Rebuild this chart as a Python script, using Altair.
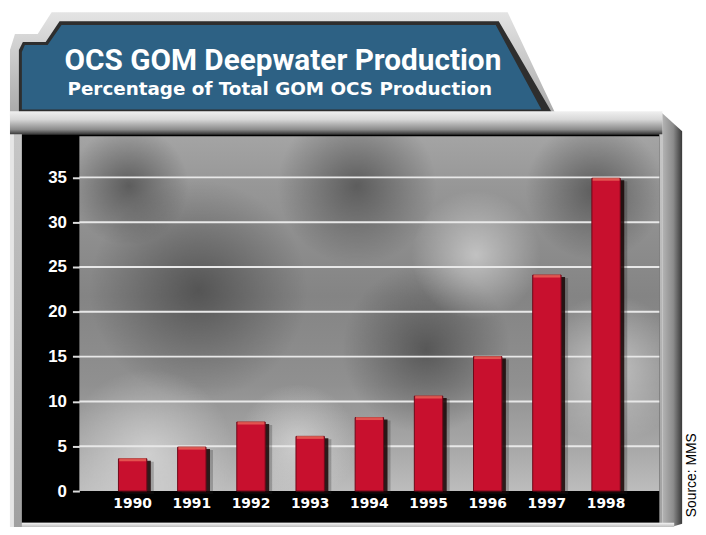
import altair as alt
import pandas as pd

# ---------------- data ----------------
years = ["1990", "1991", "1992", "1993", "1994", "1995", "1996", "1997", "1998"]
share = [3.6, 4.9, 7.7, 6.1, 8.2, 10.6, 15.0, 24.1, 34.9]
y_ticks = [0, 5, 10, 15, 20, 25, 30, 35]
grid_vals = [5, 10, 15, 20, 25, 30, 35]

title_text = "OCS GOM Deepwater Production"
subtitle_text = "Percentage of Total GOM OCS Production"
source_text = "Source: MMS"

# ---------------- layout ----------------
W, H = 585, 358          # plot area
OX, OY = 80, 135         # page position of the plot area
YDOM = [0, 39.6]
XSCALE = dict(paddingInner=0.52, paddingOuter=0.66, align=0.5)

data = pd.DataFrame({"year": years, "share": share})
one = pd.DataFrame({"a": [0]})


def X():
    return alt.X("year:N", sort=years, title=None, scale=alt.Scale(**XSCALE), axis=None)


def Y():
    return alt.Y("share:Q", title=None,
                 scale=alt.Scale(domain=YDOM, nice=False, zero=True), axis=None)


def grad(stops, vertical=True):
    return alt.LinearGradient(
        gradient="linear",
        stops=[alt.GradientStop(color=c, offset=o) for o, c in stops],
        x1=0, y1=0, x2=0 if vertical else 1, y2=1 if vertical else 0)


def rgrad(stops):
    return alt.RadialGradient(
        gradient="radial",
        stops=[alt.GradientStop(color=c, offset=o) for o, c in stops],
        x1=0.5, y1=0.5, x2=0.5, y2=0.5, r1=0, r2=0.5)


def rect(x1, y1, x2, y2, color, **kw):
    return alt.Chart(one).mark_rect(color=color, **kw).encode(
        x=alt.value(x1 - OX), x2=alt.value(x2 - OX),
        y=alt.value(y1 - OY), y2=alt.value(y2 - OY))


def poly(xs, tops, bottoms, color, **kw):
    df = pd.DataFrame({"px": [v - OX for v in xs],
                       "pt": [v - OY for v in tops],
                       "pb": [v - OY for v in bottoms]})
    return alt.Chart(df).mark_area(color=color, interpolate="linear", **kw).encode(
        x=alt.X("px:Q", scale=None, axis=None),
        y=alt.Y("pt:Q", scale=None, axis=None),
        y2="pb:Q")


def text(s, x, y, **kw):
    return alt.Chart(one).mark_text(text=s, **kw).encode(
        x=alt.value(x - OX), y=alt.value(y - OY))


def blob(cx, cy, size, stops):
    h = size / 2
    return rect(cx - h, cy - h, cx + h, cy + h, rgrad(stops), clip=True)


# ---------------- frame decorations ----------------
frame_body = rect(10, 112, 668, 532, grad([(0, "#c8c8c8"), (1, "#a0a0a0")]))
frame_right = poly([668, 688], [112, 130], [532, 526],
                   grad([(0, "#b4b4b4"), (0.55, "#8c8c8c"), (1, "#383838")], vertical=False))
frame_left_hi = rect(10, 120, 14, 530, "#e6e6e6")

banner_outer = poly([10, 15, 38, 52, 512, 560], [48, 32, 32, 10, 10, 112],
                    [115, 115, 115, 115, 115, 115], grad([(0, "#e4e4e4"), (1, "#a8a8a8")]))
banner_dark = poly([19, 23, 46, 60, 503, 557], [48, 40, 40, 19, 19, 112],
                   [112, 112, 112, 112, 112, 112], "#2e2e2e")
banner_blue = poly([22, 25, 48, 62, 500, 546], [50, 43, 43, 23, 23, 108],
                   [108, 108, 108, 108, 108, 108], "#2d6184")

strip = rect(10, 110, 668, 133, grad([(0, "#f0f0f0"), (0.35, "#d8d8d8"), (0.8, "#8a8a8a"), (1, "#3a3a3a")]))
black = rect(22, 133, 665, 525, "#000000")
bottom_bevel = rect(22, 525, 680, 532, grad([(0, "#f4f4f4"), (1, "#9a9a9a")]))

# ---------------- plot background ----------------
bg = rect(OX, OY, OX + W, OY + H, grad([
    (0, "#a4a4a4"), (0.15, "#969696"), (0.45, "#848484"),
    (0.7, "#909090"), (0.88, "#a8a8a8"), (1, "#bdbdbd")]))
dark_blob = [(0, "rgba(45,45,45,0.55)"), (1, "rgba(45,45,45,0)")]
light_blob = [(0, "rgba(230,230,230,0.6)"), (1, "rgba(230,230,230,0)")]
blobs = [
    blob(200, 290, 220, dark_blob),
    blob(430, 350, 170, dark_blob),
    blob(360, 185, 160, dark_blob),
    blob(600, 190, 140, dark_blob),
    blob(130, 185, 120, dark_blob),
    blob(150, 455, 170, light_blob),
    blob(615, 370, 150, light_blob),
    blob(480, 255, 130, light_blob),
    blob(300, 445, 120, light_blob),
]

grid = alt.Chart(pd.DataFrame({"g": grid_vals})).mark_rule(
    color="#e8e8e8", strokeWidth=2).encode(
    y=alt.Y("g:Q", scale=alt.Scale(domain=YDOM, nice=False), axis=None),
    x=alt.value(0), x2=alt.value(W))

# ---------------- bars ----------------
base = alt.Chart(data)
shadow2 = base.mark_bar(color="#202020", opacity=0.25, xOffset=7, yOffset=3).encode(x=X(), y=Y())
shadow1 = base.mark_bar(color="#1a0505", opacity=0.85, xOffset=4, yOffset=2).encode(x=X(), y=Y())
bars = base.mark_bar(color="#c8102e", stroke="#6e0818", strokeWidth=1).encode(
    x=alt.X("year:N", sort=years, title=None, scale=alt.Scale(**XSCALE),
            axis=alt.Axis(labelColor="white", labelFont="DejaVu Sans", labelFontWeight="bold",
                          labelFontSize=14, labelAngle=0, labelPadding=6, ticks=False,
                          domain=False, grid=False, zindex=1)),
    y=alt.Y("share:Q", title=None,
            scale=alt.Scale(domain=YDOM, nice=False, zero=True),
            axis=alt.Axis(values=y_ticks, labelColor="white", labelFont="Liberation Sans",
                          labelFontWeight="bold", labelFontSize=17, labelPadding=6,
                          tickSize=7, tickColor="#dcdcdc", tickWidth=2, domain=False,
                          grid=False, zindex=1)))
tops = base.mark_tick(color="#ee7060", thickness=3, size=27, yOffset=1).encode(x=X(), y=Y())

# ---------------- texts ----------------
title = text(title_text, 65, 68, align="left", baseline="alphabetic", color="white",
             font="Roboto", fontWeight="bold", fontSize=30)
subtitle = text(subtitle_text, 68, 94, align="left", baseline="alphabetic", color="white",
                font="DejaVu Sans", fontWeight="bold", fontSize=18.5)
source = text(source_text, 698, 477, align="center", baseline="middle", angle=270,
              color="black", font="Liberation Sans", fontSize=14)

chart = alt.layer(
    frame_body, frame_right, frame_left_hi,
    banner_outer, banner_dark, banner_blue,
    strip, black, bottom_bevel,
    bg, *blobs, grid,
    shadow2, shadow1, bars, tops,
    title, subtitle, source,
).resolve_scale(x="independent", y="independent").properties(
    width=W, height=H,
    padding={"left": OX - 8, "top": OY - 8, "right": 704 - (OX + W), "bottom": 527 - (OY + H)},
    autosize=alt.AutoSizeParams(type="none"),
).configure_view(stroke=None).configure(background="white")

chart.save("out.html", embed_options={"renderer": "svg", "actions": False})
